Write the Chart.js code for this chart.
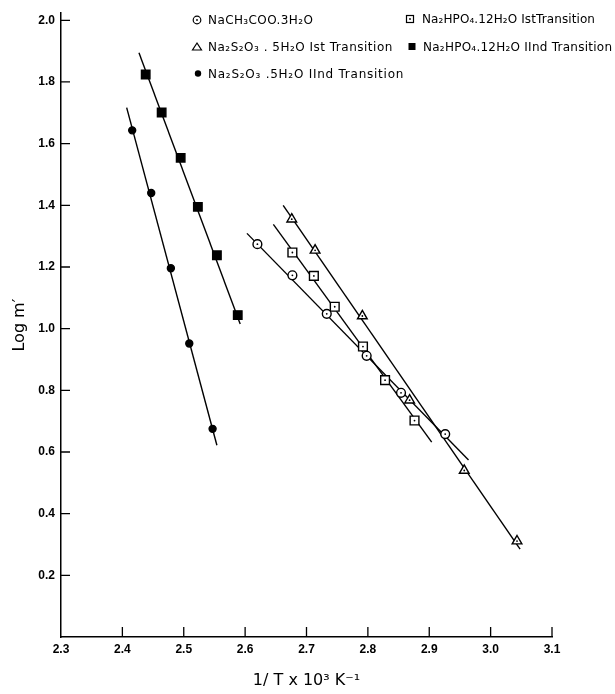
<!DOCTYPE html>
<html><head><meta charset="utf-8">
<script src="https://cdn.jsdelivr.net/npm/chart.js@4.4.1/dist/chart.umd.min.js"></script>
<style>html,body{margin:0;padding:0;background:#fff}#wrap{width:615px;height:694px;position:relative}</style>
</head><body><div id="wrap"><canvas id="c"></canvas></div>
<script>
// ---- data ----
const seriesNames = [
  'NaCH\u2083COO.3H\u2082O',
  'Na\u2082HPO\u2084.12H\u2082O IstTransition',
  'Na\u2082S\u2082O\u2083 . 5H\u2082O Ist Transition',
  'Na\u2082HPO\u2084.12H\u2082O IInd Transition',
  'Na\u2082S\u2082O\u2083 .5H\u2082O IInd Transition'
];
const xTickValues = [2.3, 2.4, 2.5, 2.6, 2.7, 2.8, 2.9, 3.0, 3.1];
const yTickValues = [0.2, 0.4, 0.6, 0.8, 1.0, 1.2, 1.4, 1.6, 1.8, 2.0];

// NaCH3COO.3H2O (open circles)
const acetateX = [2.620, 2.677, 2.733, 2.798, 2.854, 2.926];
const acetateY = [1.274, 1.173, 1.048, 0.912, 0.792, 0.658];
const acetateFitX = [2.603, 2.964];
const acetateFitY = [1.309, 0.574];

// Na2HPO4.12H2O Ist transition (open squares)
const phosIX = [2.677, 2.712, 2.746, 2.792, 2.828, 2.876];
const phosIY = [1.247, 1.171, 1.071, 0.942, 0.833, 0.702];
const phosIFitX = [2.646, 2.904];
const phosIFitY = [1.338, 0.632];

// Na2S2O3.5H2O Ist transition (open triangles)
const thioIX = [2.676, 2.714, 2.791, 2.868, 2.957, 3.043];
const thioIY = [1.355, 1.254, 1.041, 0.768, 0.540, 0.311];
const thioIFitX = [2.662, 3.048];
const thioIFitY = [1.400, 0.285];

// Na2HPO4.12H2O IInd transition (filled squares)
const phosIIX = [2.438, 2.464, 2.495, 2.523, 2.554, 2.588];
const phosIIY = [1.824, 1.701, 1.554, 1.395, 1.238, 1.044];
const phosIIFitX = [2.427, 2.592];
const phosIIFitY = [1.895, 1.015];

// Na2S2O3.5H2O IInd transition (filled circles)
const thioIIX = [2.416, 2.447, 2.479, 2.509, 2.547];
const thioIIY = [1.643, 1.440, 1.196, 0.952, 0.675];
const thioIIFitX = [2.407, 2.554];
const thioIIFitY = [1.717, 0.622];

// ---- helpers ----
const pts = (xs, ys) => xs.map((x, i) => ({x, y: ys[i]}));
const fitLine = (xs, ys) => ({data: pts(xs, ys), showLine: true, pointRadius: 0, borderColor: '#000', borderWidth: 1.4, fill: false, order: 5});
const marks = (xs, ys, style, radius, filled) => ({
  data: pts(xs, ys), showLine: false, pointStyle: style, pointRadius: radius,
  pointBackgroundColor: filled ? '#000' : '#fff', pointBorderColor: '#000', pointBorderWidth: 1.4, order: 2
});
const dots = (xs, ys) => ({data: pts(xs, ys), showLine: false, pointStyle: 'circle', pointRadius: 0.9,
  pointBackgroundColor: '#000', pointBorderColor: '#000', pointBorderWidth: 0, order: 1});

const datasets = [
  fitLine(acetateFitX, acetateFitY), fitLine(phosIFitX, phosIFitY), fitLine(thioIFitX, thioIFitY),
  fitLine(phosIIFitX, phosIIFitY), fitLine(thioIIFitX, thioIIFitY),
  marks(acetateX, acetateY, 'circle', 4.4, false),
  marks(phosIX, phosIY, 'rect', 6.2, false),
  marks(thioIX, thioIY, 'triangle', 5.6, false),
  marks(phosIIX, phosIIY, 'rect', 6, true),
  marks(thioIIX, thioIIY, 'circle', 3.5, true),
  dots(acetateX, acetateY), dots(phosIX, phosIY), dots(thioIX, thioIY)
];

// inward tick marks
const innerTicks = {
  id: 'innerTicks',
  afterDraw(chart) {
    const ctx = chart.ctx, xs = chart.scales.x, ys = chart.scales.y;
    ctx.save();
    ctx.strokeStyle = '#000'; ctx.lineWidth = 1.3;
    ctx.beginPath();
    yTickValues.forEach(v => { const p = ys.getPixelForValue(v); ctx.moveTo(xs.left, p); ctx.lineTo(xs.left + 9, p); });
    xTickValues.slice(1).forEach(v => { const p = xs.getPixelForValue(v); ctx.moveTo(p, ys.bottom); ctx.lineTo(p, ys.bottom - 10); });
    ctx.stroke();
    ctx.restore();
  }
};

// legend drawn inside the plot
const legendItems = [
  {name: seriesNames[0], mark: 'ocircle', mx: 197, tx: 208, y: 20, sp: 0.4},
  {name: seriesNames[1], mark: 'osquare', mx: 410, tx: 422, y: 19, sp: 0.1},
  {name: seriesNames[2], mark: 'otri', mx: 197, tx: 208, y: 47, sp: 0.5},
  {name: seriesNames[3], mark: 'fsquare', mx: 412, tx: 423, y: 46.5, sp: 0.25},
  {name: seriesNames[4], mark: 'fcircle', mx: 198, tx: 208, y: 73.5, sp: 0.75}
];
const insideLegend = {
  id: 'insideLegend',
  afterDraw(chart) {
    const ctx = chart.ctx;
    ctx.save();
    ctx.fillStyle = '#000'; ctx.strokeStyle = '#000'; ctx.lineWidth = 1.2;
    ctx.font = '12px "DejaVu Sans"';
    ctx.textBaseline = 'middle'; ctx.textAlign = 'left';
    legendItems.forEach(it => {
      const x = it.mx, y = it.y;
      ctx.beginPath();
      if (it.mark === 'ocircle') { ctx.arc(x, y, 3.8, 0, Math.PI * 2); ctx.stroke(); ctx.beginPath(); ctx.arc(x, y, 0.9, 0, Math.PI * 2); ctx.fill(); }
      else if (it.mark === 'osquare') { ctx.strokeRect(x - 3.5, y - 3.5, 7, 7); ctx.beginPath(); ctx.arc(x, y, 0.9, 0, Math.PI * 2); ctx.fill(); }
      else if (it.mark === 'otri') { ctx.moveTo(x, y - 4); ctx.lineTo(x + 4.5, y + 3); ctx.lineTo(x - 4.5, y + 3); ctx.closePath(); ctx.stroke(); }
      else if (it.mark === 'fsquare') { ctx.fillRect(x - 3.5, y - 3.5, 7, 7); }
      else if (it.mark === 'fcircle') { ctx.arc(x, y, 3.2, 0, Math.PI * 2); ctx.fill(); }
      ctx.letterSpacing = it.sp + 'px';
      ctx.fillText(it.name, it.tx, y + 1);
      ctx.letterSpacing = '0px';
    });
    ctx.restore();
  }
};

new Chart(document.getElementById('c'), {
  type: 'scatter',
  data: {datasets},
  options: {
    responsive: true, maintainAspectRatio: false, animation: false,
    layout: {padding: {left: 0, right: 63, top: 13, bottom: 0}},
    plugins: {legend: {display: false}, tooltip: {enabled: false}},
    scales: {
      x: {
        type: 'linear', min: 2.3, max: 3.1,
        afterBuildTicks(s) { s.ticks = xTickValues.map(v => ({value: v})); },
        afterFit(s) { s.height = 57; },
        grid: {display: false, drawTicks: false},
        border: {display: true, color: '#000', width: 1.5},
        ticks: {color: '#000', font: {family: 'Liberation Sans', size: 12, weight: 'bold'}, padding: 5, maxRotation: 0,
          callback: v => v.toFixed(1)},
        title: {display: true, text: '1/ T x 10\u00b3 K\u207b\u00b9', color: '#000',
          font: {family: 'DejaVu Sans', size: 16}, padding: {top: 0, bottom: 4}}
      },
      y: {
        type: 'linear', min: 0, max: 2.023,
        afterBuildTicks(s) { s.ticks = [0].concat(yTickValues).map(v => ({value: v})); },
        afterFit(s) { s.width = 61; },
        grid: {display: false, drawTicks: false},
        border: {display: true, color: '#000', width: 1.5},
        ticks: {color: '#000', font: {family: 'Liberation Sans', size: 12, weight: 'bold'}, padding: 6,
          callback: v => v === 0 ? '' : v.toFixed(1)},
        title: {display: true, text: 'Log m\u2032', color: '#000',
          font: {family: 'DejaVu Sans', size: 16}, padding: {top: 10, bottom: 0}}
      }
    }
  },
  plugins: [innerTicks, insideLegend]
});
</script></body></html>
